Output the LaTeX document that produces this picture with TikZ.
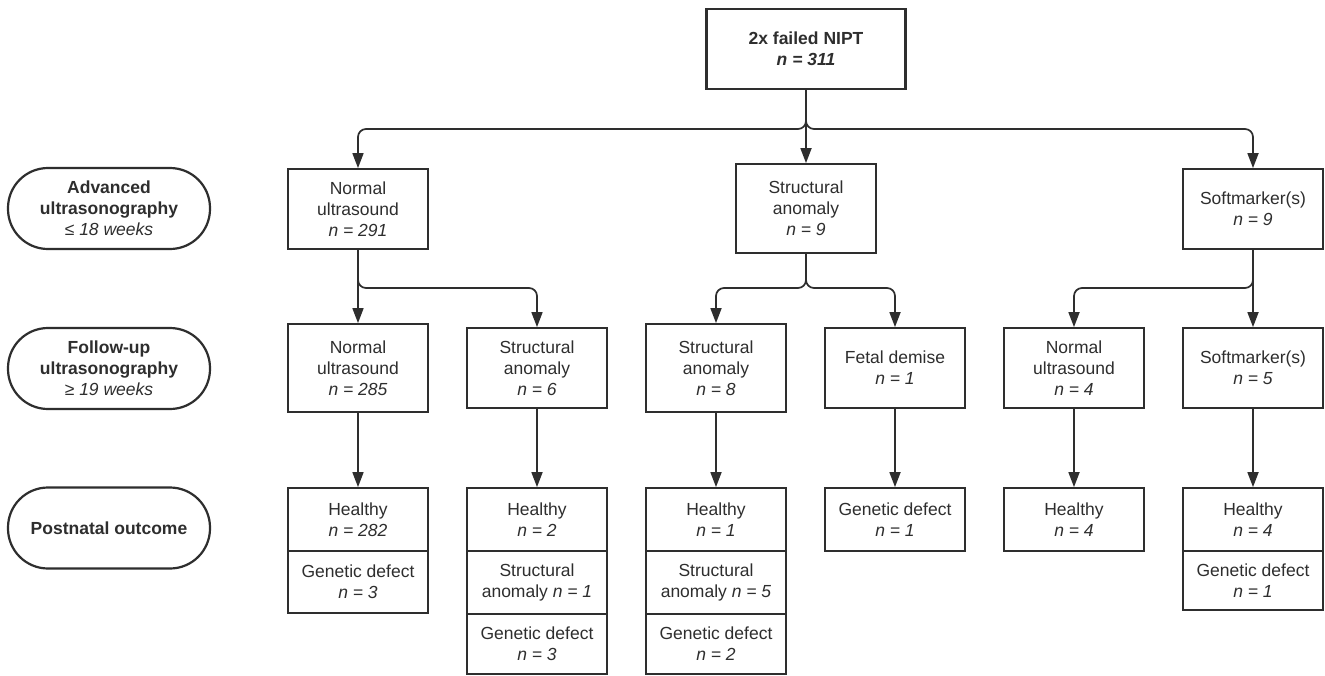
\documentclass[tikz,border=0pt]{standalone}
\usepackage{fontspec}
\setmainfont{Liberation Sans}
\usetikzlibrary{arrows.meta}
\definecolor{ink}{HTML}{2E2E2E}
\begin{document}
\begin{tikzpicture}[x=1pt,y=-1pt,
  every node/.style={font=\fontsize{17.5}{21}\selectfont, text=ink, align=center, inner sep=0pt},
  box/.style={draw=ink, line width=1.8pt, minimum width=140pt},
  topbox/.style={draw=ink, line width=2.8pt, minimum width=199pt, minimum height=80pt},
  pill/.style={draw=ink, line width=2.2pt, rounded corners=40pt, minimum width=202pt, minimum height=81pt},
  arr/.style={draw=ink, line width=1.7pt, rounded corners=8pt, -{Triangle[length=15pt,width=11pt]}}
]
\useasboundingbox (0,0) rectangle (1325,675);
\fill[white] (0,0) rectangle (1325,675);

% stage labels
\node[pill] (p1) at (109,208.5) {\textbf{Advanced}\\\textbf{ultrasonography}\\\textit{≤ 18 weeks}};
\node[pill] (p2) at (109,368.5) {\textbf{Follow-up}\\\textbf{ultrasonography}\\\textit{≥ 19 weeks}};
\node[pill] (p3) at (109,528) {\textbf{Postnatal outcome}};

% top
\node[topbox] (top) at (806,49) {\textbf{2x failed NIPT}\\\textbf{\textit{n = 311}}};

% row 1
\node[box, minimum height=80pt] (r1a) at (358,209) {Normal\\ultrasound\\\textit{n = 291}};
\node[box, minimum height=89pt] (r1b) at (806,208.5) {Structural\\anomaly\\\textit{n = 9}};
\node[box, minimum height=80pt] (r1c) at (1253,209) {Softmarker(s)\\\textit{n = 9}};

% row 2
\node[box, minimum height=88pt] (r2a) at (358,368) {Normal\\ultrasound\\\textit{n = 285}};
\node[box, minimum height=80pt] (r2b) at (537,368) {Structural\\anomaly\\\textit{n = 6}};
\node[box, minimum height=88pt] (r2c) at (716,368) {Structural\\anomaly\\\textit{n = 8}};
\node[box, minimum height=80pt] (r2d) at (895,368) {Fetal demise\\\textit{n = 1}};
\node[box, minimum height=80pt] (r2e) at (1074,368) {Normal\\ultrasound\\\textit{n = 4}};
\node[box, minimum height=80pt] (r2f) at (1253,368) {Softmarker(s)\\\textit{n = 5}};

% row 3
\node[box, minimum height=63pt] (c1a) at (358,519.5) {Healthy\\\textit{n = 282}};
\node[box, minimum height=62pt] (c1b) at (358,582) {Genetic defect\\\textit{n = 3}};

\node[box, minimum height=63pt] (c2a) at (537,519.5) {Healthy\\\textit{n = 2}};
\node[box, minimum height=63pt] (c2b) at (537,582.5) {Structural\\anomaly \textit{n = 1}};
\node[box, minimum height=60pt] (c2c) at (537,644) {Genetic defect\\\textit{n = 3}};

\node[box, minimum height=63pt] (c3a) at (716,519.5) {Healthy\\\textit{n = 1}};
\node[box, minimum height=63pt] (c3b) at (716,582.5) {Structural\\anomaly \textit{n = 5}};
\node[box, minimum height=60pt] (c3c) at (716,644) {Genetic defect\\\textit{n = 2}};

\node[box, minimum height=63pt] (c4a) at (895,519.5) {Genetic defect\\\textit{n = 1}};
\node[box, minimum height=63pt] (c5a) at (1074,519.5) {Healthy\\\textit{n = 4}};

\node[box, minimum height=63pt] (c6a) at (1253,519.5) {Healthy\\\textit{n = 4}};
\node[box, minimum height=59pt] (c6b) at (1253,580.5) {Genetic defect\\\textit{n = 1}};

% junctions
\coordinate (j0) at (806,129);
\coordinate (j1) at (358,288);
\coordinate (j2) at (806,288);
\coordinate (j3) at (1253,288);

% connectors
\draw[arr] (top.south) -- (r1b.north);
\draw[arr] (top.south) -- (j0) -| (r1a.north);
\draw[arr] (top.south) -- (j0) -| (r1c.north);

\draw[arr] (r1a.south) -- (r2a.north);
\draw[arr] (r1a.south) -- (j1) -| (r2b.north);

\draw[arr] (r1b.south) -- (j2) -| (r2c.north);
\draw[arr] (r1b.south) -- (j2) -| (r2d.north);

\draw[arr] (r1c.south) -- (r2f.north);
\draw[arr] (r1c.south) -- (j3) -| (r2e.north);

\draw[arr] (r2a) -- (c1a);
\draw[arr] (r2b) -- (c2a);
\draw[arr] (r2c) -- (c3a);
\draw[arr] (r2d) -- (c4a);
\draw[arr] (r2e) -- (c5a);
\draw[arr] (r2f) -- (c6a);
\end{tikzpicture}
\end{document}
